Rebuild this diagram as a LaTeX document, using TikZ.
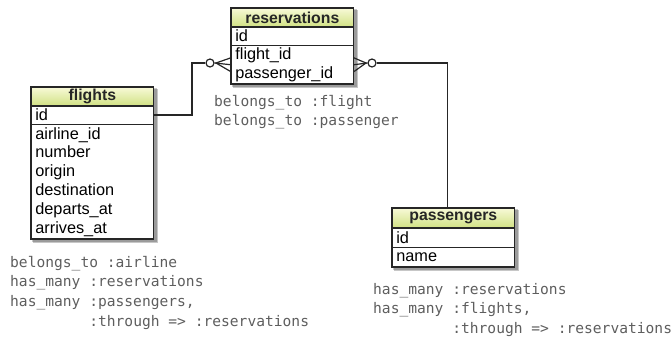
\documentclass[tikz,border=0pt]{standalone}
\usepackage{fontspec}
\setmainfont{Liberation Sans}
\setmonofont{DejaVu Sans Mono}
\usetikzlibrary{backgrounds}
\definecolor{hdtop}{HTML}{F7F9D6}
\definecolor{hdbot}{HTML}{D2E286}
\definecolor{codegray}{HTML}{5E5E5E}

\tikzset{
	tblhead/.style={draw=black!85,line width=0.7pt,top color=hdtop,bottom color=hdbot,
		minimum width=122pt,inner sep=0pt,anchor=north west,text=black!85,
		font=\fontsize{15.8}{18}\selectfont\bfseries},
	tblrow/.style={draw=black!85,line width=0.7pt,fill=white,inner sep=0pt,inner xsep=4pt,
		text width=114pt,align=left,anchor=north west,
		font=\fontsize{16.3}{18.8}\selectfont},
	frame/.style={draw=black!85,line width=1.5pt},
	boxshadow/.style={fill=black,opacity=.22},
	codetext/.style={anchor=north west,inner sep=0pt,align=left,text=codegray,
		font=\fontsize{14.6}{19.6}\selectfont\ttfamily},
	link/.style={line width=1.2pt,black!85},
	ring/.style={circle,draw=black!85,fill=white,line width=1.2pt,inner sep=0pt,minimum size=8pt}
}

\begin{document}
\begin{tikzpicture}[x=1pt,y=-1pt]
	\useasboundingbox (0,0) rectangle (672,338);

	% flights
	\node[tblhead,minimum height=18pt] (flhead) at (31,87) {flights};
	\node[tblrow,minimum height=18pt] (flid) at (flhead.south west) {id};
	\node[tblrow,minimum height=114pt] (flcols) at (flid.south west)
		{airline\_id\\number\\origin\\destination\\departs\_at\\arrives\_at};
	\draw[frame] (flhead.north west) rectangle (flcols.south east);
	\node[codetext] (flcode) at (10,256)
		{belongs\_to :airline\\has\_many :reservations\\has\_many :passengers,\\
		\hphantom{has\_many }:through => :reservations};

	% reservations
	\node[tblhead,minimum height=18pt] (rehead) at (231,8) {reservations};
	\node[tblrow,minimum height=18pt] (reid) at (rehead.south west) {id};
	\node[tblrow,minimum height=38pt] (recols) at (reid.south west)
		{flight\_id\\passenger\_id};
	\draw[frame] (rehead.north west) rectangle (recols.south east);
	\node[codetext] (recode) at (214,95)
		{belongs\_to :flight\\belongs\_to :passenger};

	% passengers
	\node[tblhead,minimum height=19pt] (pahead) at (392,208) {passengers};
	\node[tblrow,minimum height=19pt] (paid) at (pahead.south west) {id};
	\node[tblrow,minimum height=19pt] (paname) at (paid.south west) {name};
	\draw[frame] (pahead.north west) rectangle (paname.south east);
	\node[codetext] (pacode) at (373,283)
		{has\_many :reservations\\has\_many :flights,\\
		\hphantom{has\_many }:through => :reservations};

	% shadows
	\begin{scope}[on background layer]
	\foreach \tl/\br in {flhead/flcols,rehead/recols,pahead/paname}{
		\fill[boxshadow] ([shift={(1,1)}]\tl.north west) rectangle ([shift={(3,3)}]\br.south east);
		\fill[boxshadow] ([shift={(2,2)}]\tl.north west) rectangle ([shift={(4,4)}]\br.south east);
	}
	\end{scope}

	% flights -- reservations
	\node[ring] (lring) at (210,63) {};
	\coordinate (lbend) at (192,63);
	\coordinate (lfoot) at (216,63);
	\draw[link] (flid.east) -| (lbend) -- (lring.west);
	\draw[link] (lring.east) -- (recols.west);
	\draw[link] ([yshift=7pt]recols.west) -- (lfoot) -- ([yshift=-7pt]recols.west);

	% reservations -- passengers
	\node[ring] (rring) at (372,63) {};
	\coordinate (rfoot) at (366,63);
	\draw[link] (recols.east) -- (rring.west);
	\draw[link] ([yshift=7pt]recols.east) -- (rfoot) -- ([yshift=-7pt]recols.east);
	\draw[link] (rring.east) -| ([xshift=-6pt]pahead.north);
\end{tikzpicture}
\end{document}
